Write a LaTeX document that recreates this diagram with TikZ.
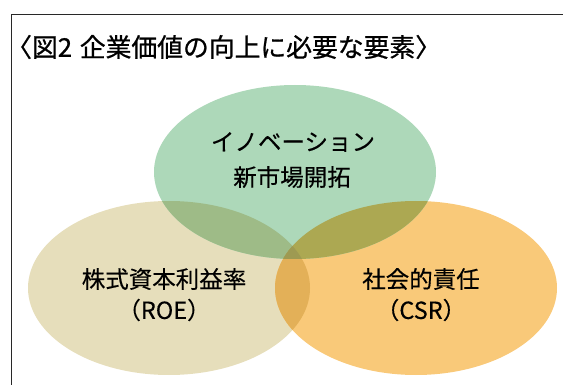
\documentclass[tikz,border=0pt]{standalone}
\usepackage{fontspec}
\setmainfont{Noto Sans CJK JP}
\newfontfamily\ttlfont[FakeBold=0.8]{Noto Sans CJK JP}
\newfontfamily\lblfont[FakeBold=0.3]{Noto Sans CJK JP}
\usetikzlibrary{shapes.geometric}
\definecolor{cgreen}{RGB}{173,216,185}
\definecolor{cbeige}{RGB}{230,222,187}
\definecolor{corange}{RGB}{249,201,121}
\definecolor{cgb}{RGB}{158,187,135}
\definecolor{cgo}{RGB}{172,168,82}
\definecolor{cob}{RGB}{227,176,88}
\definecolor{cgob}{RGB}{158,154,82}
\definecolor{cframe}{RGB}{40,40,40}
\tikzset{
  lbl/.style={font=\lblfont\fontsize{23.5}{35}\selectfont, align=center, text=black, inner sep=0pt},
  ttl/.style={font=\ttlfont\fontsize{25.8}{30}\selectfont, anchor=west, text=black, inner sep=0pt},
}
\begin{document}
\begin{tikzpicture}[x=1pt,y=-1pt]
\useasboundingbox (0,0) rectangle (563,385);
\coordinate (cb) at (169,288);
\coordinate (co) at (416,288);
\coordinate (cg) at (295,172);
\def\rx{141}\def\ry{87}
% base fills
\fill[cbeige] (cb) ellipse [x radius=\rx, y radius=\ry];
\fill[corange] (co) ellipse [x radius=\rx, y radius=\ry];
\fill[cgreen] (cg) ellipse [x radius=\rx, y radius=\ry];
% pairwise overlaps
\begin{scope}
  \clip (cb) ellipse [x radius=\rx, y radius=\ry];
  \fill[cob] (co) ellipse [x radius=\rx, y radius=\ry];
  \fill[cgb] (cg) ellipse [x radius=\rx, y radius=\ry];
  \clip (co) ellipse [x radius=\rx, y radius=\ry];
  \fill[cgob] (cg) ellipse [x radius=\rx, y radius=\ry];
\end{scope}
\begin{scope}
  \clip (co) ellipse [x radius=\rx, y radius=\ry];
  \clip (cg) ellipse [x radius=\rx, y radius=\ry];
  \fill[cgo] (co) ellipse [x radius=\rx, y radius=\ry];
  \clip (cb) ellipse [x radius=\rx, y radius=\ry];
  \fill[cgob] (cg) ellipse [x radius=\rx, y radius=\ry];
\end{scope}
% frame
\draw[cframe, line width=1pt] (11,385) -- (11,15) -- (563,15);
% title
\node[ttl] (title) at (6,47) {〈図2\hspace{0.3em}企業価値の向上に必要な要素〉};
% labels
\node[lbl] (g1) at (293,142) {イノベーション};
\node[lbl] (g2) at (292,177) {新市場開拓};
\node[lbl] (b1) at (164,279) {株式資本利益率};
\node[lbl] (b2) at (164,310) {（ROE）};
\node[lbl] (o1) at (421,279) {社会的責任};
\node[lbl] (o2) at (421,310) {（CSR）};
\end{tikzpicture}
\end{document}
